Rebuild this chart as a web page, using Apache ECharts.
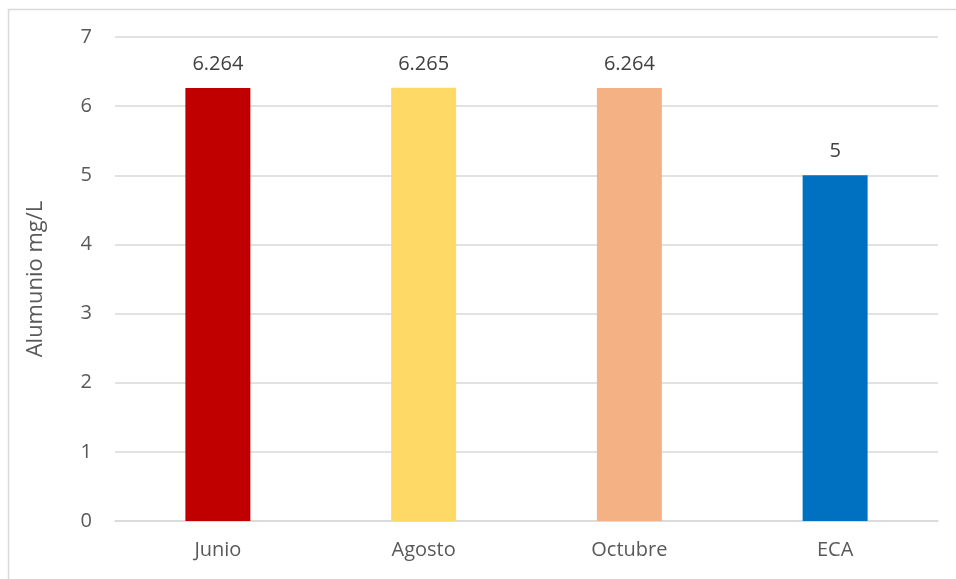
<!DOCTYPE html>
<html>
<head>
<meta charset="utf-8">
<script src="https://cdn.jsdelivr.net/npm/echarts@6/dist/echarts.min.js"></script>
<style>
  html, body { margin: 0; padding: 0; background: #fff; }
  #container { width: 956px; height: 579px; }
</style>
</head>
<body>
<div id="container"></div>
<script>
// data
const months = ['Junio', 'Agosto', 'Octubre', 'ECA']
const aluminio = [6.264, 6.265, 6.264, 5]
const barColors = ['#c00000', '#ffd966', '#f4b183', '#0070c0']

const textColor = '#595959'
const fontFamily = '"Open Sans", Lato, sans-serif'

let mychart = echarts.init(document.getElementById('container'))

let options = {
    animation: false,
    graphic: {
        elements: [
            {
                // light frame around the chart area
                type: 'rect',
                left: 6,
                top: 7,
                shape: { width: 1000, height: 1000 },
                style: { fill: 'none', stroke: '#d9d9d9', lineWidth: 1.5 },
                silent: true
            }
        ]
    },
    grid: {
        left: 115,
        right: 18,
        top: 37,
        bottom: 58
    },
    xAxis: {
        type: 'category',
        data: months,
        axisLine: { show: true, lineStyle: { color: '#d9d9d9', width: 1.5 } },
        axisTick: { show: false },
        axisLabel: {
            color: textColor,
            fontSize: 20,
            fontFamily: fontFamily,
            margin: 19
        }
    },
    yAxis: {
        type: 'value',
        min: 0,
        max: 7,
        interval: 1,
        name: 'Alumunio mg/L',
        nameLocation: 'middle',
        nameGap: 68,
        nameTextStyle: {
            color: textColor,
            fontSize: 22,
            fontFamily: fontFamily
        },
        axisLine: { show: false },
        axisTick: { show: false },
        axisLabel: {
            color: textColor,
            fontSize: 20,
            fontFamily: fontFamily,
            margin: 23
        },
        splitLine: {
            lineStyle: { color: '#d9d9d9', width: 1.5 }
        }
    },
    series: [
        {
            type: 'bar',
            barWidth: 65,
            data: aluminio.map((v, i) => ({
                value: v,
                itemStyle: { color: barColors[i] }
            })),
            label: {
                show: true,
                position: 'top',
                distance: 14,
                color: '#404040',
                fontSize: 20,
                fontFamily: fontFamily
            }
        }
    ]
}

mychart.setOption(options)
</script>
</body>
</html>
